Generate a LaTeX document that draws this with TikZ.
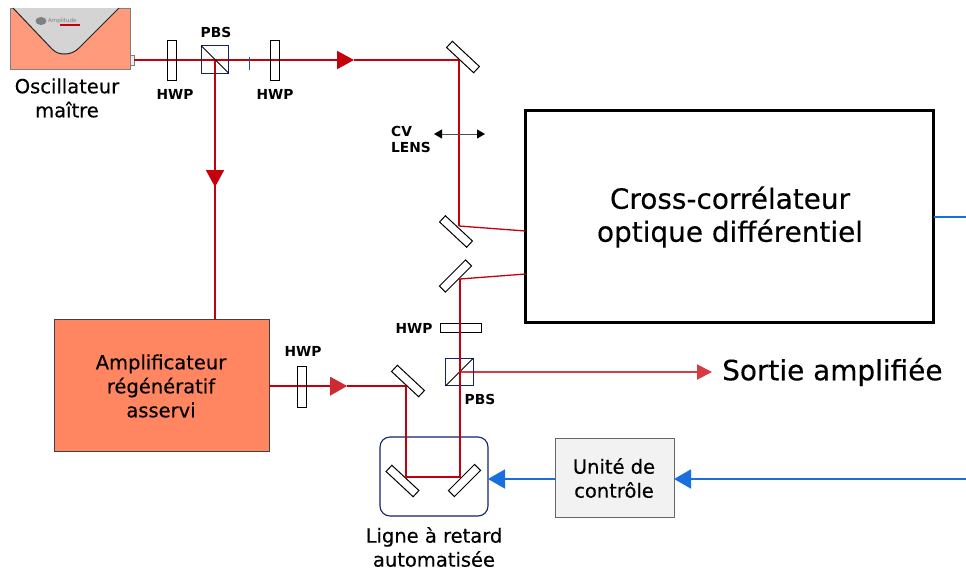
\documentclass[tikz,border=0pt]{standalone}
\usepackage{fontspec}
\setmainfont{DejaVu Sans}
\newfontfamily\medfont[FakeBold=0.35]{DejaVu Sans}
\usetikzlibrary{arrows.meta,shapes.geometric}
\definecolor{beamred}{HTML}{C4000C}
\definecolor{palered}{HTML}{D63B42}
\definecolor{ctrlblue}{HTML}{1A6FE0}
\definecolor{navyline}{HTML}{10236B}
\definecolor{oscsalmon}{HTML}{FF9B7C}
\definecolor{ampsalmon}{HTML}{FF8661}
\definecolor{ctrlgray}{HTML}{F2F2F2}
\tikzset{
  mirror/.style={draw=black, line width=1pt, fill=white, minimum width=37pt, minimum height=8.5pt, inner sep=0pt, outer sep=0pt},
  waveplate/.style={draw=black, line width=1pt, fill=none, minimum width=#1, minimum height=9pt, inner sep=0pt, outer sep=0pt},
  cube/.style={draw=navyline, line width=0.8pt, minimum size=27.5pt, inner sep=0pt, outer sep=0pt},
  beam/.style={draw=beamred, line width=1.9pt},
  thinbeam/.style={draw=beamred, line width=1.3pt},
  redtip/.style={-{Triangle[length=17pt,width=18pt]}},
  bluetip/.style={-{Triangle[length=17pt,width=19pt]}},
  ctrl/.style={draw=ctrlblue, line width=1.7pt},
  tag/.style={font=\fontsize{13.8}{16}\selectfont\bfseries, align=left, inner sep=0pt},
  textlabel/.style={font=\medfont\fontsize{19.5}{24}\selectfont, align=center, inner sep=0pt},
  biglabel/.style={font=\medfont\fontsize{27.9}{33}\selectfont, align=center, inner sep=0pt}
}
\begin{document}
\begin{tikzpicture}[x=1pt, y=-1pt]
  \useasboundingbox (0,0) rectangle (966,571);

  \node[draw=gray, line width=1pt, fill=oscsalmon, minimum width=120pt, minimum height=61pt, inner sep=0pt, outer sep=0pt] (osc) at (70,38.5) {};
  \draw[fill=black!17, draw=black!70!gray, line width=1pt] (13,8) -- (52,49) .. controls (56,53) and (60,54) .. (65,54) .. controls (70,54) and (75,52) .. (79,48) -- (119,8);
  \node[draw=gray, fill=black!8, line width=0.8pt, minimum width=4pt, minimum height=10pt, inner sep=0pt, outer sep=0pt, anchor=west] (port) at (130,60) {};
  \node[ellipse, fill=gray, minimum width=11pt, minimum height=8pt, inner sep=0pt] (logo) at (41,21) {};
  \node[font=\fontsize{5.5}{6}\selectfont, text=gray, inner sep=0pt, anchor=west] (brand) at (48,21) {Amplitude};
  \node[fill=beamred, minimum width=20pt, minimum height=1.5pt, inner sep=0pt] (brandbar) at (70,25) {};
  \node[textlabel] (osctext) at (67,98) {Oscillateur\\maître};

  \node[draw=black!75, line width=1pt, fill=ampsalmon, minimum width=215pt, minimum height=132pt, inner sep=0pt, outer sep=0pt] (amp) at (161.5,385) {};
  \node[textlabel] (amptext) at (161,386) {Amplificateur\\régénératif\\asservi};
  \node[draw=black, line width=3.2pt, minimum width=408pt, minimum height=212pt, inner sep=0pt, outer sep=0pt] (cross) at (729.5,216.5) {};
  \node[biglabel] (crosstext) at (730,217) {Cross-corrélateur\\optique différentiel};
  \node[draw=black!60, line width=1pt, fill=ctrlgray, minimum width=119pt, minimum height=79pt, inner sep=0pt, outer sep=0pt] (unit) at (614.5,477.5) {};
  \node[textlabel] (unittext) at (614,478) {Unité de\\contrôle};
  \node[draw=navyline, line width=1.1pt, rounded corners=10pt, minimum width=108pt, minimum height=79pt, inner sep=0pt, outer sep=0pt] (stage) at (434,476.5) {};
  \node[textlabel] (stagetext) at (434,547) {Ligne à retard\\automatisée};

  \coordinate (pbsa) at (215,60);
  \coordinate (tipa) at (354,60);
  \coordinate (turna) at (459,60);
  \coordinate (turnb) at (459,226);
  \coordinate (turnc) at (460,279);
  \coordinate (pbsb) at (459.5,372);
  \coordinate (tipb) at (215,187);
  \coordinate (ampup) at (215,319);
  \coordinate (tipc) at (347,386);
  \coordinate (turnd) at (406,386);
  \coordinate (turne) at (406,477);
  \coordinate (turnf) at (460,477);
  \coordinate (tipd) at (712,372);
  \coordinate (blueright) at (966,217);
  \coordinate (bluein) at (966,479);

  \draw[beam, redtip] (port.east) -- (tipa);
  \draw[beam] (tipa) -- (turna) -- (turnb);
  \draw[thinbeam] (turnb) -- (cross.west |- 0,231);
  \draw[thinbeam] (turnc) -- (cross.west |- 0,274);
  \draw[beam] (ampup) -- (pbsa);
  \draw[beam, redtip] (pbsa) -- (tipb);
  \draw[beam, redtip] (amp.east |- tipc) -- (tipc);
  \draw[beam] (tipc) -- (turnd);
  \draw[draw=palered, line width=1.9pt, -{Triangle[length=15pt,width=15pt]}] (pbsb) -- (tipd);
  \fill[palered, opacity=0.7] (330,377) -- (347,386) -- (330,396) -- cycle;

  \node[waveplate=40pt, rotate=90] (hwpa) at (172,60) {};
  \node[waveplate=40pt, rotate=90] (hwpb) at (275,60) {};
  \node[waveplate=41pt, rotate=90] (hwpc) at (302,386.5) {};
  \node[waveplate=41pt] (hwpd) at (460.5,328) {};
  \node[cube] (cubea) at (215,59.5) {};
  \draw[line width=0.9pt] (cubea.north west) -- (cubea.south east);
  \node[cube] (cubeb) at (459.5,372) {};
  \draw[line width=0.9pt] (cubeb.south west) -- (cubeb.north east);
  \draw[draw=ctrlblue!60!navyline, line width=0.7pt] (249,57) -- (249,70);

  \node[mirror, rotate=-43] (mirra) at (463,57) {};
  \node[mirror, rotate=-43] (mirrb) at (456,231.5) {};
  \node[mirror, rotate=45] (mirrc) at (455.5,276) {};
  \node[mirror, rotate=-43] (mirrd) at (408,381) {};
  \node[mirror, rotate=-43] (mirre) at (402.5,481) {};
  \node[mirror, rotate=45] (mirrf) at (464.5,480.5) {};
  \draw[beam] (turnc) -- (turnf) -- (turne) -- (turnd);

  \coordinate (lensl) at (434,134);
  \coordinate (lensr) at (485,134);
  \draw[draw=black!70, line width=0.9pt, {Triangle[length=8pt,width=9pt,black]}-{Triangle[length=8pt,width=9pt,black]}] (lensl) -- (lensr);

  \draw[ctrl] (cross.east |- blueright) -- (blueright);
  \draw[ctrl, bluetip] (bluein) -- (unit.east |- bluein);
  \draw[ctrl, bluetip] (unit.west |- bluein) -- (stage.east |- bluein);

  \node[tag] (pbstexta) at (216,32) {PBS};
  \node[tag] (hwptexta) at (175,94) {HWP};
  \node[tag] (hwptextb) at (275,94) {HWP};
  \node[tag] (lenstext) at (411,139) {CV\\LENS};
  \node[tag] (hwptextc) at (414,328) {HWP};
  \node[tag] (hwptextd) at (303,351) {HWP};
  \node[tag] (pbstextb) at (480,399) {PBS};
  \node[biglabel, anchor=west] (outtext) at (722,372) {Sortie amplifiée};
\end{tikzpicture}
\end{document}
